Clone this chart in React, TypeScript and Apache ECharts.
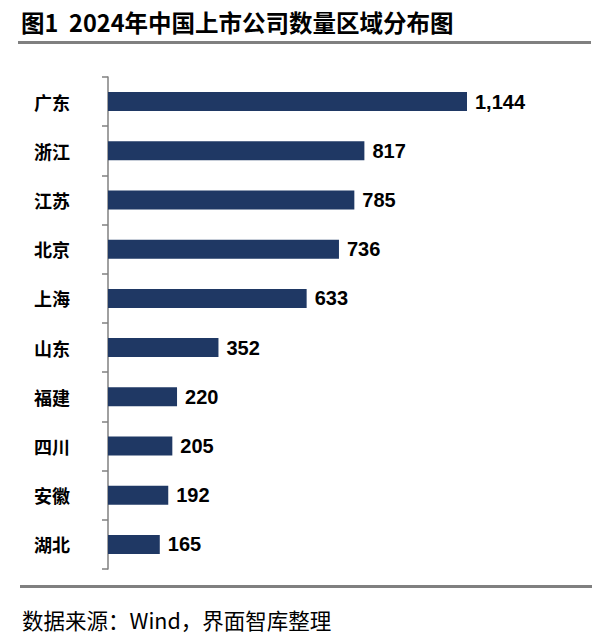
import React, { useEffect, useRef } from "react";
import * as echarts from "echarts";

const categories = ["广东", "浙江", "江苏", "北京", "上海", "山东", "福建", "四川", "安徽", "湖北"];
const values = [1144, 817, 785, 736, 633, 352, 220, 205, 192, 165];
const titleText = "图1  2024年中国上市公司数量区域分布图";
const sourceText = "数据来源：Wind，界面智库整理";

export default function App() {
  const ref = useRef<HTMLDivElement>(null);
  useEffect(() => {
    document.body.style.margin = "0";
    const chart = echarts.init(ref.current!, null, { renderer: "svg" });
    chart.setOption({
      animation: false,
      backgroundColor: "#ffffff",
      grid: { left: 108, top: 77, width: 359, height: 492, containLabel: false },
      xAxis: {
        type: "value",
        min: 0,
        max: 1144,
        show: false,
      },
      yAxis: {
        type: "category",
        data: categories,
        inverse: true,
        axisLine: { show: true, lineStyle: { color: "#808080", width: 1.5 } },
        axisTick: { show: true, length: 6, lineStyle: { color: "#808080", width: 1.5 } },
        axisLabel: {
          margin: 38,
          color: "#000000",
          fontSize: 18,
          fontWeight: "bold",
          fontFamily: "Noto Sans CJK SC",
        },
      },
      series: [
        {
          type: "bar",
          data: values,
          barWidth: 19,
          itemStyle: { color: "#1F3864" },
          label: {
            show: true,
            position: "right",
            distance: 8,
            color: "#000000",
            fontSize: 20,
            fontWeight: "bold",
            fontFamily: "Liberation Sans, Arial, sans-serif",
            formatter: (p: any) => Number(p.value).toLocaleString("en-US"),
          },
        },
      ],
      graphic: [
        {
          type: "text",
          left: 21,
          top: 10,
          style: {
            text: titleText,
            fontSize: 23.5,
            fontWeight: "bold",
            fontFamily: "Noto Sans CJK SC",
            fill: "#000000",
          },
        },
        {
          type: "rect",
          shape: { x: 18, y: 41, width: 573, height: 3 },
          style: { fill: "#808080" },
        },
        {
          type: "rect",
          shape: { x: 20, y: 585, width: 572, height: 3 },
          style: { fill: "#808080" },
        },
        {
          type: "text",
          left: 22,
          top: 609,
          style: {
            text: sourceText,
            fontSize: 21.5,
            fontFamily: "Noto Sans CJK SC",
            fill: "#000000",
          },
        },
      ],
    });
    return () => chart.dispose();
  }, []);
  return <div ref={ref} style={{ width: 610, height: 638 }} />;
}
